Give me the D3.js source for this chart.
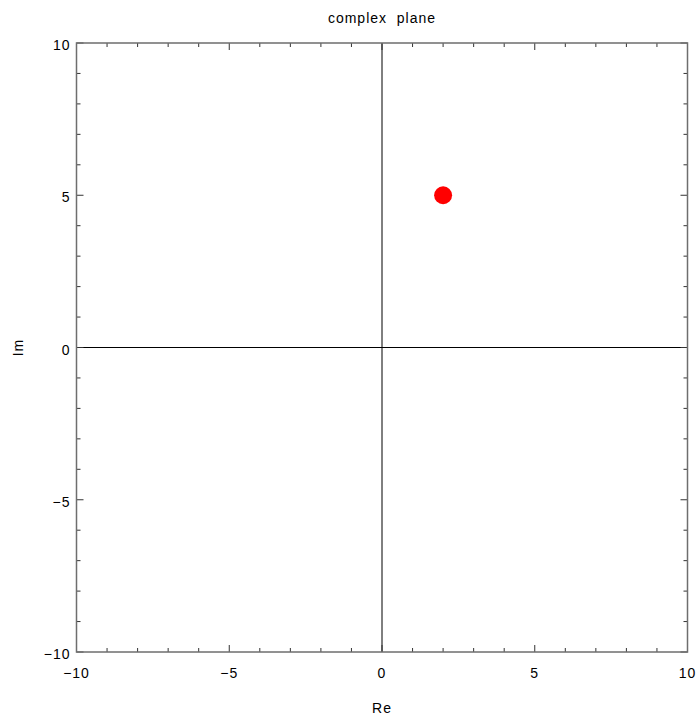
<!DOCTYPE html>
<html>
<head>
<meta charset="utf-8">
<script src="https://cdn.jsdelivr.net/npm/d3@7"></script>
<style>
  body { margin: 0; background: #fff; }
  text { font-family: "Liberation Sans", Arial, sans-serif; fill: #000; letter-spacing: 1px; }
</style>
</head>
<body>
<div id="chart"></div>
<script>
// data
var points = [{ re: 2, im: 5 }];
var majorTicks = [-10, -5, 0, 5, 10];
var minorTicks = d3.range(-10, 11, 1);
var titleText = "complex\u00a0\u00a0plane";

var width = 699, height = 719;
var margin = { top: 43, right: 11.5, bottom: 67, left: 76.5 };
var w = width - margin.left - margin.right,
    h = height - margin.top - margin.bottom;

var svg = d3.select("#chart").append("svg")
    .attr("width", width)
    .attr("height", height);

var g = svg.append("g")
    .attr("transform", "translate(" + margin.left + "," + margin.top + ")");

var x = d3.scaleLinear().domain([-10, 10]).range([0, w]);
var y = d3.scaleLinear().domain([-10, 10]).range([h, 0]);

var fmt = function(d) { return d < 0 ? "\u2212" + Math.abs(d) : d; };

// zero lines
g.append("line")
    .attr("x1", x(0)).attr("x2", x(0)).attr("y1", 0).attr("y2", h)
    .attr("stroke", "#000").attr("stroke-width", 1);
g.append("line")
    .attr("x1", 0).attr("x2", w).attr("y1", y(0)).attr("y2", y(0))
    .attr("stroke", "#000").attr("stroke-width", 1);

// ticks (inward, all sides)
var tickG = g.append("g").attr("stroke", "#333").attr("stroke-width", 1);
minorTicks.forEach(function(t) {
    var len = (t % 5 === 0) ? 7 : 4;
    tickG.append("line").attr("x1", x(t)).attr("x2", x(t)).attr("y1", h).attr("y2", h - len);
    tickG.append("line").attr("x1", x(t)).attr("x2", x(t)).attr("y1", 0).attr("y2", len);
    tickG.append("line").attr("y1", y(t)).attr("y2", y(t)).attr("x1", 0).attr("x2", len);
    tickG.append("line").attr("y1", y(t)).attr("y2", y(t)).attr("x1", w).attr("x2", w - len);
});

// frame
g.append("rect")
    .attr("x", 0).attr("y", 0).attr("width", w).attr("height", h)
    .attr("fill", "none").attr("stroke", "#6e6e6e").attr("stroke-width", 1.5);

// tick labels
g.selectAll(".xlab").data(majorTicks).enter().append("text")
    .attr("class", "xlab")
    .attr("x", function(d) { return x(d); })
    .attr("y", h + 26)
    .attr("text-anchor", "middle")
    .attr("font-size", 14)
    .text(fmt);

g.selectAll(".ylab").data(majorTicks).enter().append("text")
    .attr("class", "ylab")
    .attr("x", -6)
    .attr("y", function(d) { return y(d); })
    .attr("dy", "0.5em")
    .attr("text-anchor", "end")
    .attr("font-size", 14)
    .text(fmt);

// points
g.selectAll(".pt").data(points).enter().append("circle")
    .attr("class", "pt")
    .attr("cx", function(d) { return x(d.re); })
    .attr("cy", function(d) { return y(d.im); })
    .attr("r", 9)
    .attr("fill", "#ff0000");

// title and axis labels
svg.append("text")
    .attr("x", margin.left + x(0))
    .attr("y", 23)
    .attr("text-anchor", "middle")
    .attr("font-size", 14)
    .text(titleText);

svg.append("text")
    .attr("x", margin.left + x(0))
    .attr("y", 713)
    .attr("text-anchor", "middle")
    .attr("font-size", 14)
    .text("Re");

svg.append("text")
    .attr("transform", "translate(23," + (margin.top + y(0)) + ") rotate(-90)")
    .attr("text-anchor", "middle")
    .attr("font-size", 14)
    .text("Im");
</script>
</body>
</html>
